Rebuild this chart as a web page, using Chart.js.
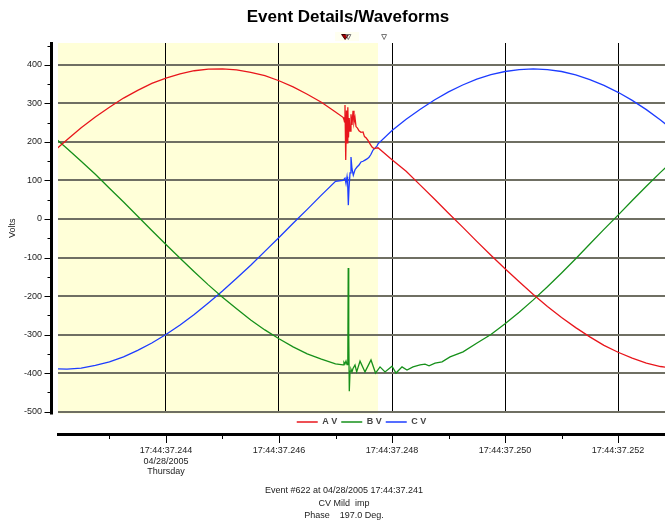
<!DOCTYPE html>
<html>
<head>
<meta charset="utf-8">
<script src="https://cdn.jsdelivr.net/npm/chart.js@4.4.1/dist/chart.umd.min.js"></script>
<style>
html, body { margin: 0; padding: 0; background: #fff; }
</style>
</head>
<body>
<canvas id="waveChart" width="665" height="524"></canvas>
<script>
// time axis = milliseconds within 17:44:37 (244 -> 17:44:37.244)
var baseTimes = [242.00, 242.25, 242.50, 242.75, 243.00, 243.25, 243.50, 243.75, 244.00, 244.25,
                 244.50, 244.75, 245.00, 245.25, 245.50, 245.75, 246.00, 246.25, 246.50, 246.75,
                 247.00, 247.25, 247.50, 247.75, 248.00, 248.25, 248.50, 248.75, 249.00, 249.25,
                 249.50, 249.75, 250.00, 250.25, 250.50, 250.75, 251.00, 251.25, 251.50, 251.75,
                 252.00, 252.25, 252.50, 252.75, 253.00];
var aVolts = [174, 206, 237, 265, 290, 314, 334, 352, 366, 377, 385, 389, 390, 387, 381, 372, 359, 343, 324, 303,
              278, 251, 222, 191, 154, 124, 88, 52, 15, -21, -58, -94, -129, -163, -196, -227, -256, -282, -306, -328,
              -346, -361, -374, -383, -388];
var bVolts = [215, 183, 150, 116, 80, 44, 7, -30, -66, -102, -137, -171, -203, -233, -262, -288, -311, -332, -350, -364,
              -376, -384, -389, -390, -388, -382, -373, -361, -345, -327, -305, -300, -272, -242, -210, -176, -140, -103, -65, -27,
              10, 48, 85, 121, 156];
var cVolts = [-389, -390, -387, -380, -371, -358, -341, -322, -300, -275, -248, -218, -187, -154, -120, -84, -48, -11, 25, 62,
              98, 133, 167, 199, 230, 259, 285, 309, 330, 348, 363, 375, 383, 388, 390, 388, 383, 374, 362, 347,
              329, 308, 284, 257, 228];

// the disturbance, read point by point
var aFaultTimes = [247.133, 247.150, 247.159, 247.168, 247.181, 247.195, 247.207, 247.218, 247.230, 247.242,
                   247.257, 247.274, 247.292, 247.310, 247.327, 247.345, 247.363, 247.389, 247.416, 247.451,
                   247.487, 247.513, 247.540, 247.575, 247.611, 247.646, 247.681, 247.717, 247.752];
var aFaultVolts = [264, 258, 252, 296, 153, 282, 198, 290, 212, 262,
                   228, 272, 244, 281, 250, 263, 240, 236, 229, 225,
                   226, 214, 211, 204, 195, 187, 183, 184, 185];
var bFaultTimes = [247.133, 247.150, 247.168, 247.186, 247.204, 247.218, 247.225, 247.234, 247.244, 247.257,
                   247.274, 247.292, 247.310, 247.345, 247.375, 247.434, 247.522, 247.628, 247.708, 247.788,
                   247.876, 248.000, 248.071, 248.177, 248.265, 248.372, 248.496, 248.584, 248.655, 248.761,
                   248.885, 249.027, 249.257, 249.504];
var bFaultVolts = [-379, -372, -376, -369, -378, -370, -127, -300, -447, -395,
                   -390, -397, -388, -379, -397, -369, -397, -366, -400, -384,
                   -397, -382, -400, -384, -392, -384, -379, -377, -381, -374,
                   -371, -358, -345, -322];
var cFaultTimes = [247.133, 247.168, 247.186, 247.204, 247.215, 247.227, 247.239, 247.257, 247.274, 247.292,
                   247.315, 247.345, 247.381, 247.416, 247.451, 247.487, 247.522, 247.558, 247.593, 247.628,
                   247.664, 247.699, 247.735, 247.752];
var cFaultVolts = [100, 106, 92, 110, 95, 36, 80, 120, 161, 130,
                   114, 128, 135, 140, 148, 150, 153, 156, 160, 168,
                   179, 184, 190, 195];

var seriesNames = ['A V', 'B V', 'C V'];
var seriesColors = ['#e8161c', '#16901a', '#1d3cff'];

var xTickValues = [244, 246, 248, 250, 252];
var xTickLabels = ['17:44:37.244', '17:44:37.246', '17:44:37.248', '17:44:37.250', '17:44:37.252'];
var xDateLines = ['04/28/2005', 'Thursday'];
var xMin = 242.09, xMax = 252.83;
var yMin = -505, yMax = 457;
var highlightEnd = 247.752;
var markerTimes = [247.17, 247.227, 247.86];

var chartTitle = 'Event Details/Waveforms';
var footerLines = ['Event #622 at 04/28/2005 17:44:37.241', 'CV Mild  imp', 'Phase    197.0 Deg.'];

var FONT = '"Liberation Sans", Arial, sans-serif';

function buildSeries(base, fTimes, fVals) {
    var pts = [];
    var start = fTimes[0], end = fTimes[fTimes.length - 1];
    baseTimes.forEach(function(t, i) {
        if (t < start || t > end) pts.push({x: t, y: base[i]});
    });
    fTimes.forEach(function(t, i) { pts.push({x: t, y: fVals[i]}); });
    return pts.sort(function(p, q) { return p.x - q.x; });
}

var decor = {
    id: 'decor',
    beforeDraw: function(chart) {
        var ctx = chart.ctx, area = chart.chartArea, x = chart.scales.x;
        ctx.save();
        ctx.fillStyle = '#ffffd8';
        ctx.fillRect(area.left, area.top, x.getPixelForValue(highlightEnd) - area.left, area.bottom - area.top);
        // faint band behind the cursor markers
        ctx.fillStyle = '#fffff0';
        ctx.fillRect(x.getPixelForValue(markerTimes[0]) - 10, 32, 24, 9);
        ctx.restore();
    },
    afterDraw: function(chart) {
        var ctx = chart.ctx, area = chart.chartArea, x = chart.scales.x, y = chart.scales.y;
        ctx.save();
        // y axis line, set off from the plot
        var ax = area.left - 6.5;
        ctx.strokeStyle = '#000';
        ctx.lineWidth = 3;
        ctx.beginPath();
        ctx.moveTo(ax, area.top - 1);
        ctx.lineTo(ax, area.bottom + 1);
        ctx.stroke();
        ctx.lineWidth = 1;
        for (var v = -500; v <= 450; v += 50) {
            var py = Math.round(y.getPixelForValue(v)) + 0.5;
            ctx.beginPath();
            ctx.moveTo(v % 100 === 0 ? ax - 7 : ax - 4, py);
            ctx.lineTo(ax, py);
            ctx.stroke();
        }
        // x tick marks below the axis line
        for (var t = 243; t <= 252; t++) {
            var px = Math.round(x.getPixelForValue(t)) + 0.5;
            ctx.beginPath();
            ctx.moveTo(px, x.top + 1);
            ctx.lineTo(px, x.top + (t % 2 === 0 ? 9 : 5));
            ctx.stroke();
        }
        // cursor markers on top
        markerTimes.forEach(function(mt, i) {
            var mx = x.getPixelForValue(mt);
            var w = i === 0 ? 3.5 : 2.5;
            ctx.beginPath();
            ctx.moveTo(mx - w, 34.5);
            ctx.lineTo(mx + w, 34.5);
            ctx.lineTo(mx, 39.5);
            ctx.closePath();
            if (i === 0) {
                ctx.fillStyle = '#a80000';
                ctx.fill();
                ctx.strokeStyle = '#400000';
            } else {
                ctx.strokeStyle = '#777';
            }
            ctx.stroke();
        });
        // title and footer
        ctx.fillStyle = '#000';
        ctx.textAlign = 'center';
        ctx.textBaseline = 'middle';
        ctx.font = 'bold 17px ' + FONT;
        ctx.fillText(chartTitle, 348, 17);
        ctx.fillStyle = '#222';
        ctx.font = '9px ' + FONT;
        footerLines.forEach(function(line, i) {
            ctx.fillText(line, 344, 491 + i * 12.5);
        });
        ctx.restore();
    }
};

var faultTimes = [aFaultTimes, bFaultTimes, cFaultTimes];
var faultVolts = [aFaultVolts, bFaultVolts, cFaultVolts];
var baseVolts = [aVolts, bVolts, cVolts];

var datasets = seriesNames.map(function(name, i) {
    return {
        label: name,
        data: buildSeries(baseVolts[i], faultTimes[i], faultVolts[i]),
        borderColor: seriesColors[i],
        backgroundColor: seriesColors[i],
        borderWidth: 1.3,
        pointRadius: 0,
        pointStyle: 'line',
        tension: 0
    };
});

var myChart = new Chart(document.getElementById('waveChart'), {
    type: 'line',
    data: { datasets: datasets },
    plugins: [decor],
    options: {
        responsive: false,
        animation: false,
        layout: { padding: { top: 43, left: 0, right: 0, bottom: 44 } },
        plugins: {
            tooltip: { enabled: false },
            legend: {
                position: 'bottom',
                fullSize: false,
                weight: -10,
                maxHeight: 20.5,
                labels: {
                    usePointStyle: true,
                    pointStyleWidth: 21,
                    padding: 4,
                    color: '#444',
                    font: { family: FONT, size: 9, weight: 'bold' }
                }
            }
        },
        scales: {
            x: {
                type: 'linear',
                position: 'bottom',
                min: xMin,
                max: xMax,
                afterFit: function(s) { s.height = 46; },
                border: { display: true, color: '#000', width: 3 },
                grid: {
                    drawTicks: false,
                    lineWidth: 1,
                    color: function(c) {
                        return (c.tick && xTickValues.indexOf(c.tick.value) >= 0) ? '#000' : 'rgba(0,0,0,0)';
                    }
                },
                ticks: {
                    stepSize: 1,
                    includeBounds: false,
                    autoSkip: false,
                    maxRotation: 0,
                    padding: 11,
                    color: '#222',
                    font: { family: FONT, size: 9 },
                    callback: function(v) {
                        var k = xTickValues.indexOf(v);
                        if (k < 0) return '';
                        return k === 0 ? [xTickLabels[k]].concat(xDateLines) : xTickLabels[k];
                    }
                }
            },
            y: {
                min: yMin,
                max: yMax,
                afterFit: function(s) { s.width = 58; },
                border: { display: false },
                grid: { drawTicks: false, lineWidth: 2, color: '#6f6f63' },
                ticks: {
                    stepSize: 100,
                    includeBounds: false,
                    padding: 16,
                    color: '#222',
                    font: { family: FONT, size: 9 }
                },
                title: {
                    display: true,
                    text: 'Volts',
                    padding: { top: 7, bottom: 0 },
                    color: '#222',
                    font: { family: FONT, size: 9 }
                }
            }
        }
    }
});
</script>
</body>
</html>
